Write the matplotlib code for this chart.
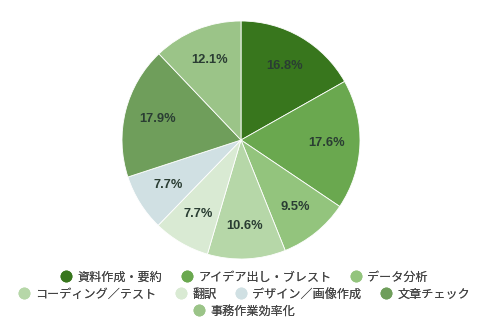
import matplotlib
matplotlib.use("Agg")
import matplotlib.pyplot as plt
from matplotlib.lines import Line2D

categories = ["資料作成・要約", "アイデア出し・ブレスト", "データ分析", "コーディング／テスト",
              "翻訳", "デザイン／画像作成", "文章チェック", "事務作業効率化"]
shares = [16.8, 17.6, 9.5, 10.6, 7.7, 7.7, 17.9, 12.1]
colors = ["#38761d", "#6aa84f", "#93c47d", "#b6d7a8", "#d9ead3", "#d0e0e3", "#6f9e5b", "#9bc488"]
legend_rows = [[0, 1, 2], [3, 4, 5, 6], [7]]

W, H = 489, 331
fig = plt.figure(figsize=(W / 100, H / 100), dpi=100)
fig.patch.set_facecolor("white")

cx, cy, r = 241, 140, 119
ax = fig.add_axes([(cx - r) / W, (H - cy - r) / H, 2 * r / W, 2 * r / H])
wedges, texts, autotexts = ax.pie(
    shares, colors=colors, startangle=90, counterclock=False,
    autopct=lambda p: f"{p:.1f}%", pctdistance=0.72,
    wedgeprops=dict(edgecolor="white", linewidth=0.6),
    textprops=dict(color="#2a3d33", fontsize=9.3, fontweight="bold",
                   family=["Liberation Sans", "DejaVu Sans"]),
)
for t, v in zip(autotexts, shares):
    t.set_text(f"{v:.1f}%")
ax.set_xlim(-1, 1)
ax.set_ylim(-1, 1)
ax.set_aspect("equal")
ax.axis("off")

row_y = [277, 294, 311]
for row, y in zip(legend_rows, row_y):
    handles = [Line2D([], [], marker="o", linestyle="none", markersize=7.5,
                      markerfacecolor=colors[i], markeredgecolor=colors[i]) for i in row]
    leg = fig.legend(handles, [categories[i] for i in row], loc="center",
                     bbox_to_anchor=(0.5, 1 - y / H), ncol=len(row), frameon=False,
                     handlelength=0.8, handletextpad=0.55, columnspacing=1.6,
                     borderpad=0, borderaxespad=0,
                     prop=dict(family=["Noto Sans CJK JP", "DejaVu Sans"], size=8.7))
    for t in leg.get_texts():
        t.set_color("#444444")
    fig.add_artist(leg)

fig.savefig("out.png", dpi=100, facecolor="white")
